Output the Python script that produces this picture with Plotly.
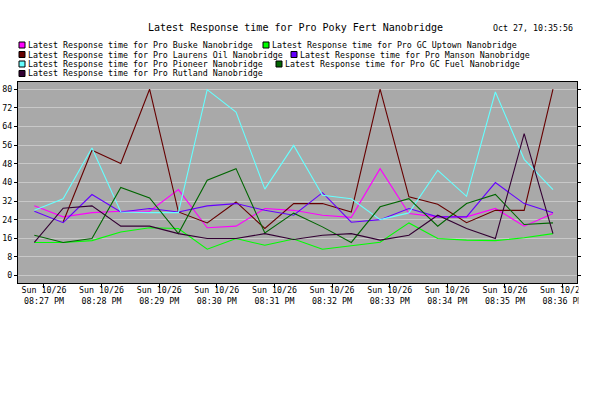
import plotly.graph_objects as go

# ---------------- data ----------------
times = [
    "2025-10-26 20:26:50", "2025-10-26 20:27:20", "2025-10-26 20:27:50", "2025-10-26 20:28:20",
    "2025-10-26 20:28:50", "2025-10-26 20:29:20", "2025-10-26 20:29:50", "2025-10-26 20:30:20",
    "2025-10-26 20:30:50", "2025-10-26 20:31:20", "2025-10-26 20:31:50", "2025-10-26 20:32:20",
    "2025-10-26 20:32:50", "2025-10-26 20:33:20", "2025-10-26 20:33:50", "2025-10-26 20:34:20",
    "2025-10-26 20:34:50", "2025-10-26 20:35:20", "2025-10-26 20:35:50",
]

buske = [30.0, 25.2, 27.0, 27.6, 27.6, 36.9, 20.5, 21.2, 28.8, 28.0, 25.9, 25.0, 45.9, 26.6, 25.2, 25.2, 28.8, 21.2, 26.6]
gc_uptown = [14.2, 14.2, 15.0, 18.7, 20.5, 20.2, 11.3, 15.9, 13.0, 15.7, 11.3, 12.7, 14.3, 22.6, 15.9, 15.2, 15.0, 16.2, 18.0]
laurens_oil = [None, 23.0, 53.8, 48.1, 80.0, 27.3, 22.6, 31.6, 20.2, 30.9, 30.9, 27.3, 80.0, 33.8, 30.6, 22.7, 28.0, 28.0, 80.0]
manson = [27.6, 22.7, 34.8, 27.3, 28.8, 27.3, 29.9, 30.9, 28.0, 25.9, 35.6, 22.9, 24.0, 28.8, 25.2, 25.2, 39.9, 30.9, 27.0]
pioneer = [28.0, 33.0, 54.8, 27.3, 27.0, 27.0, 79.8, 70.2, 37.1, 55.9, 34.5, 33.0, 24.0, 26.9, 45.2, 34.0, 78.8, 49.9, 36.9]
gc_fuel = [17.3, 14.2, 15.9, 37.8, 33.3, 18.0, 40.9, 45.9, 18.3, 26.8, 20.9, 14.2, 29.5, 33.0, 21.2, 30.9, 34.8, 21.9, 22.6]
rutland = [14.2, 28.9, 29.9, 21.2, 21.2, 18.0, 15.9, 15.9, 18.0, 15.5, 17.3, 18.0, 15.2, 17.3, 25.9, 20.2, 15.9, 60.9, 18.0]

series_names = [
    "Latest Response time for Pro Buske Nanobridge",
    "Latest Response time for Pro GC Uptown Nanobridge",
    "Latest Response time for Pro Laurens Oil Nanobridge",
    "Latest Response time for Pro Manson Nanobridge",
    "Latest Response time for Pro Pioneer Nanobridge",
    "Latest Response time for Pro GC Fuel Nanobridge",
    "Latest Response time for Pro Rutland Nanobridge",
]
series_values = [buske, gc_uptown, laurens_oil, manson, pioneer, gc_fuel, rutland]
series_colors = ["#ff00ff", "#00ff00", "#660000", "#6600ff", "#66ffff", "#006600", "#330033"]

title_text = "Latest Response time for Pro Poky Fert Nanobridge"
stamp_text = "Oct 27, 10:35:56"

# ---------------- layout helpers ----------------
W, H = 616, 393
PL, PR, PT, PB = 18, 577, 82, 283   # plot area in pixels
FONT = "DejaVu Sans Mono"


def fx(px):
    return (px - PL) / (PR - PL)


def fy(py):
    return (PB - py) / (PB - PT)


fig = go.Figure()
for name, vals, col in zip(series_names, series_values, series_colors):
    fig.add_trace(go.Scatter(x=times, y=vals, mode="lines", name=name,
                             line=dict(color=col, width=1.1), connectgaps=False))

# legend layout (marker x, row y)
legend_pos = [
    (19, 45), (263, 45),
    (19, 54.5), (291, 54.5),
    (19, 64), (276, 64),
    (19, 73.5),
]

shapes = []
annotations = []
for (mx, my), name, col in zip(legend_pos, series_names, series_colors):
    shapes.append(dict(type="rect", xref="paper", yref="paper",
                       x0=fx(mx), x1=fx(mx + 6), y0=fy(my + 3), y1=fy(my - 3),
                       fillcolor=col, line=dict(color="black", width=1)))
    annotations.append(dict(text=name, xref="paper", yref="paper", x=fx(mx + 8), y=fy(my),
                            xanchor="left", yanchor="middle", showarrow=False, borderpad=0,
                            font=dict(family=FONT, size=8.3, color="black")))

annotations.append(dict(text=title_text, xref="paper", yref="paper", x=fx(295), y=fy(27.5),
                        xanchor="center", yanchor="middle", showarrow=False, borderpad=0,
                        font=dict(family=FONT, size=10, color="black")))
annotations.append(dict(text=stamp_text, xref="paper", yref="paper", x=fx(574), y=fy(28.5),
                        xanchor="right", yanchor="middle", showarrow=False, borderpad=0,
                        font=dict(family=FONT, size=8.3, color="black")))

# clip the x tick labels at the right edge of the plot, like the reference
shapes.append(dict(type="rect", xref="paper", yref="paper", layer="above",
                   x0=fx(PR + 1.5), x1=fx(W + 10), y0=fy(H), y1=fy(PB + 1.5),
                   fillcolor="white", line=dict(width=0)))

fig.update_layout(
    width=W, height=H,
    margin=dict(l=PL, r=W - PR, t=PT, b=H - PB, pad=0, autoexpand=False),
    paper_bgcolor="white", plot_bgcolor="#a9a9a9",
    showlegend=False,
    font=dict(family=FONT, size=8.3, color="black"),
    shapes=shapes, annotations=annotations,
    xaxis=dict(type="date", range=["2025-10-26 20:26:33", "2025-10-26 20:36:15"],
               tick0="2025-10-26 20:27:00", dtick=60000,
               tickformat="%a %m/%d<br>%I:%M %p",
               ticks="outside", ticklen=4, tickcolor="black",
               ticklabelstandoff=-5,
               showline=True, linecolor="black", linewidth=1, mirror=True,
               showgrid=False, zeroline=False, automargin=False,
               tickfont=dict(family=FONT, size=8.3, color="black")),
    yaxis=dict(range=[-3.2, 83.1], tick0=0, dtick=8,
               ticks="outside", ticklen=3, tickcolor="black",
               showline=True, linecolor="black", linewidth=1, mirror="ticks",
               showgrid=True, gridcolor="#c8c8c8", gridwidth=1, zeroline=False,
               automargin=False,
               tickfont=dict(family=FONT, size=8.3, color="black")),
)

fig.write_html("out.html", config={"displayModeBar": False},
               post_script="document.body.style.margin='0';")
